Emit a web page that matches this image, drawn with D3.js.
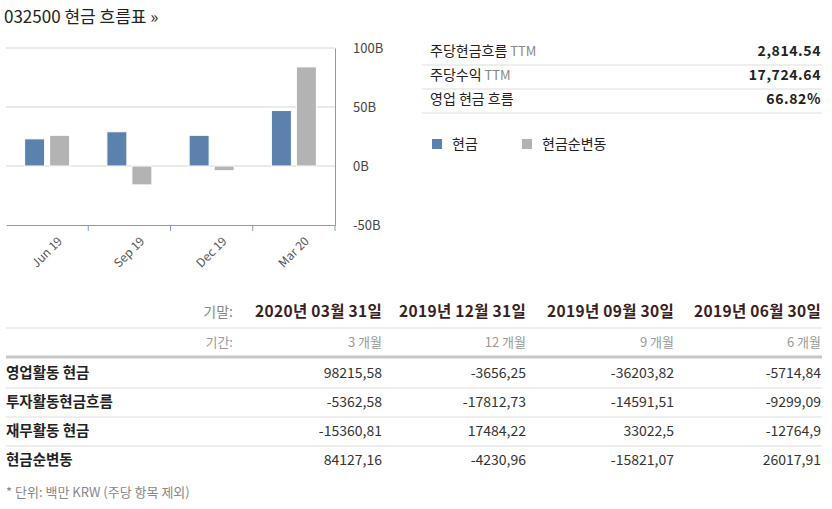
<!DOCTYPE html>
<html><head><meta charset="utf-8">
<script src="https://cdn.jsdelivr.net/npm/d3@7"></script>
<style>
body{margin:0;background:#fff;font-family:"Noto Sans CJK KR",sans-serif;}
svg text{font-family:"Noto Sans CJK KR","Liberation Sans",sans-serif;}
</style></head><body>
<svg width="832" height="509"></svg>
<script>
var quarters = ["Jun 19", "Sep 19", "Dec 19", "Mar 20"];
var cash = [23, 29, 26, 47];
var netChange = [26, -16, -4, 84];
var yTicks = [100, 50, 0, -50];

var statNames = ["주당현금흐름", "주당수익", "영업 현금 흐름"];
var statSuffix = ["TTM", "TTM", ""];
var statValues = ["2,814.54", "17,724.64", "66.82%"];

var dates = ["2020년 03월 31일", "2019년 12월 31일", "2019년 09월 30일", "2019년 06월 30일"];
var periods = ["3 개월", "12 개월", "9 개월", "6 개월"];
var rowNames = ["영업활동 현금", "투자활동현금흐름", "재무활동 현금", "현금순변동"];
var rowValues = [
    ["98215.58", "-3656.25", "-36203.82", "-5714.84"],
    ["-5362.58", "-17812.73", "-14591.51", "-9299.09"],
    ["-15360.81", "17484.22", "33022.5", "-12764.9"],
    ["84127.16", "-4230.96", "-15821.07", "26017.91"]
];

var svg = d3.select("svg");

svg.append("text").attr("x", 4).attr("y", 23).attr("font-size", 17).attr("fill", "#222")
    .text("032500 현금 흐름표 »");

// chart
var x = d3.scaleBand().domain(quarters).range([6, 335]);
var y = d3.scaleLinear().domain([-50, 100]).range([225, 48]);
var g = svg.append("g");

g.selectAll(".grid").data(yTicks.slice(0, 3)).enter().append("line")
    .attr("x1", 6).attr("x2", 335).attr("y1", d => y(d)).attr("y2", d => y(d))
    .attr("stroke", "#e3e3e3").attr("stroke-width", 1.5);

var yAxis = g.append("g").attr("transform", "translate(335,0)")
    .call(d3.axisRight(y).tickValues(yTicks).tickSize(0).tickPadding(18).tickFormat(d => d + "B"));
yAxis.select(".domain").attr("stroke", "#7f9cc4");
yAxis.selectAll("text").attr("font-size", 13).attr("fill", "#444").attr("font-family", "Liberation Sans, sans-serif");

var xAxis = g.append("g").attr("transform", "translate(0,225)")
    .call(d3.axisBottom(x).tickSize(0).tickFormat(""));
xAxis.select(".domain").attr("stroke", "#7f9cc4");
g.selectAll(".xt").data(quarters).enter().append("line")
    .attr("x1", d => x(d) + x.bandwidth()).attr("x2", d => x(d) + x.bandwidth())
    .attr("y1", 225).attr("y2", 231).attr("stroke", "#7f9cc4");
g.selectAll(".xl").data(quarters).enter().append("text")
    .attr("transform", d => "translate(" + (x(d) + x.bandwidth() / 2 + 10) + ",236) rotate(-45)")
    .attr("text-anchor", "end").attr("dy", "0.7em").attr("font-size", 12).attr("fill", "#555")
    .attr("font-family", "Open Sans, sans-serif").text(d => d);

var bw = 20;
g.selectAll(".cash").data(quarters).enter().append("rect")
    .attr("x", d => x(d) + x.bandwidth() / 2 - bw - 2.5).attr("width", bw)
    .attr("y", (d, i) => y(Math.max(0, cash[i]))).attr("height", (d, i) => Math.abs(y(cash[i]) - y(0)))
    .attr("fill", "#5b81ad").attr("stroke", "#fff").attr("stroke-width", 1);
g.selectAll(".net").data(quarters).enter().append("rect")
    .attr("x", d => x(d) + x.bandwidth() / 2 + 2.5).attr("width", bw)
    .attr("y", (d, i) => y(Math.max(0, netChange[i]))).attr("height", (d, i) => Math.abs(y(netChange[i]) - y(0)))
    .attr("fill", "#b3b3b3").attr("stroke", "#fff").attr("stroke-width", 1);

// stats
statNames.forEach((s, i) => {
    var yy = 56 + i * 24;
    var t = svg.append("text").attr("x", 430).attr("y", yy).attr("font-size", 14).attr("fill", "#222").text(s);
    t.append("tspan").attr("fill", "#888").attr("font-size", 13).text(statSuffix[i] ? " " + statSuffix[i] : "");
    svg.append("text").attr("x", 821).attr("y", yy).attr("text-anchor", "end").attr("font-size", 14)
        .attr("font-weight", "bold").attr("fill", "#222").attr("letter-spacing", 0.6).text(statValues[i]);
    svg.append("line").attr("x1", 422).attr("x2", 822).attr("y1", yy + 9).attr("y2", yy + 9)
        .attr("stroke", "#ddd");
});
[["현금", "#5b81ad", 432], ["현금순변동", "#b3b3b3", 522]].forEach(l => {
    svg.append("rect").attr("x", l[2]).attr("y", 139).attr("width", 10).attr("height", 10).attr("fill", l[1]);
    svg.append("text").attr("x", l[2] + 20).attr("y", 149).attr("font-size", 14).attr("fill", "#222").text(l[0]);
});

// table
var colX = [382, 526, 674, 821];
svg.append("text").attr("x", 233).attr("y", 317).attr("text-anchor", "end").attr("font-size", 14).attr("fill", "#888").text("기말:");
dates.forEach((d, i) => svg.append("text").attr("x", colX[i]).attr("y", 317).attr("text-anchor", "end")
    .attr("font-size", 15.5).attr("font-weight", "bold").attr("fill", "#3a2020").attr("letter-spacing", 0.3).text(d));
svg.append("line").attr("x1", 6).attr("x2", 822).attr("y1", 328).attr("y2", 328).attr("stroke", "#ddd");
svg.append("text").attr("x", 233).attr("y", 347).attr("text-anchor", "end").attr("font-size", 13).attr("fill", "#999").text("기간:");
periods.forEach((d, i) => svg.append("text").attr("x", colX[i]).attr("y", 347).attr("text-anchor", "end")
    .attr("font-size", 13).attr("fill", "#999").text(d));
svg.append("line").attr("x1", 6).attr("x2", 822).attr("y1", 357).attr("y2", 357).attr("stroke", "#c8c8c8").attr("stroke-width", 3);
rowNames.forEach((r, i) => {
    var yy = 378 + i * 29;
    svg.append("text").attr("x", 6).attr("y", yy).attr("font-size", 14.5).attr("font-weight", "bold").attr("fill", "#222").text(r);
    rowValues[i].forEach((v, j) => svg.append("text").attr("x", colX[j]).attr("y", yy).attr("text-anchor", "end")
        .attr("font-size", 14).attr("fill", "#333").text(v.replace(".", ",")));
    if (i < 3) svg.append("line").attr("x1", 6).attr("x2", 822).attr("y1", yy + 10).attr("y2", yy + 10).attr("stroke", "#ddd");
});
svg.append("text").attr("x", 6).attr("y", 497).attr("font-size", 13).attr("fill", "#888").text("* 단위: 백만 KRW (주당 항목 제외)");
</script></body></html>
